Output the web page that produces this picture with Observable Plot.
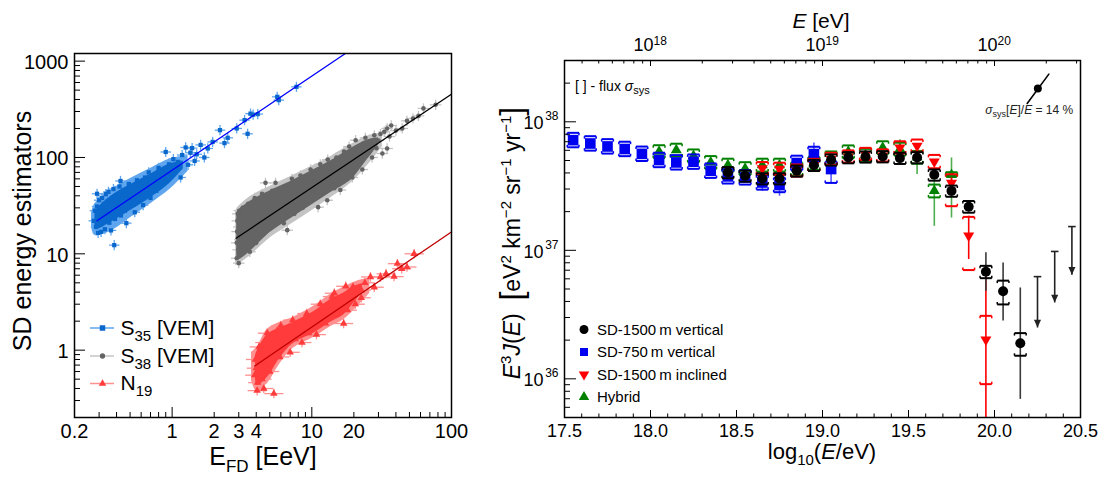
<!DOCTYPE html>
<html>
<head>
<meta charset="utf-8">
<script src="https://cdn.jsdelivr.net/npm/d3@7"></script>
<script src="https://cdn.jsdelivr.net/npm/@observablehq/plot@0.6"></script>
<style>
html,body{margin:0;padding:0;background:#fff;}
#wrap{position:relative;width:1107px;height:480px;overflow:hidden;font-family:"Liberation Sans",Arial,sans-serif;background:#fff;}
#left{position:absolute;left:0;top:0;width:470px;height:480px;}
#right{position:absolute;left:470px;top:0;width:637px;height:480px;}
svg text{font-family:"Liberation Sans",Arial,sans-serif;}
</style>
</head>
<body>
<div id="wrap"><div id="left"></div><div id="right"></div></div>
<script>
// ================= LEFT PANEL DATA (E_FD [EeV], estimator) =================
const s35Points = [
[0.275,22],[0.28,28],[0.285,19],[0.29,42],[0.29,31],[0.295,16.5],[0.30,36],[0.30,24],[0.305,20],[0.31,16.9],[0.31,29],[0.315,38],[0.32,22],[0.325,33],[0.33,18],[0.335,41.6],[0.34,26],[0.345,31],[0.35,44],[0.355,21],[0.36,36],[0.365,17.5],[0.37,28],[0.38,47],[0.385,12.3],[0.39,23],[0.40,39],[0.41,31],[0.42,50],[0.427,57],[0.43,25],[0.44,35],[0.45,46],[0.46,28],[0.47,20.8],[0.48,40],[0.49,53],[0.50,32],[0.52,47],[0.54,27],[0.56,58],[0.58,37],[0.60,50],[0.62,32],[0.64,62],[0.66,44],[0.68,70],[0.70,38],[0.72,56],[0.75,66],[0.77,45],[0.80,78],[0.83,52],[0.86,68],[0.90,114],[0.92,58],[0.95,85],[0.98,66],[1.02,96],[1.06,74],[1.1,90],[1.15,62],[1.18,106],[1.25,127],[1.3,84],[1.35,112],[1.39,125],[1.45,92],[1.5,108],[1.6,135],[1.7,100],[1.8,124],[1.95,145],[2.2,192],[2.37,141],[2.5,160],[2.9,200],[3.3,244],[3.47,176],[3.64,285],[3.8,278],[4.1,282],[5.65,426],[5.8,394],[7.76,541]
];
const s38Points = [
[2.9,9],[2.9,13],[2.92,17],[2.93,22],[2.95,26],[2.97,11],[3.0,8],[3.0,19],[3.02,28],[3.05,14],[3.1,24],[3.15,10],[3.2,30],[3.3,12],[3.4,20],[3.5,33],[3.6,10.5],[3.7,26],[3.8,15],[3.9,38],[4.0,13],[4.2,22],[4.4,42],[4.5,16],[4.66,54.5],[4.8,30],[5.0,19],[5.2,45],[5.5,54.5],[5.6,25],[5.8,38],[6.0,22],[6.3,20.8],[6.67,17.6],[6.5,50],[7.0,32],[7.2,60],[7.5,26],[8.0,45],[8.3,65],[8.6,30],[9.0,55],[9.3,36],[9.8,75],[10,42],[10.5,62],[11.1,30.5],[11.5,85],[12,50],[12.9,36],[13,95],[13.5,62],[14,80],[14.5,48],[15,100],[16,46],[16.5,75],[17,115],[18,60],[18.5,130],[19,85],[19.5,62],[20,110],[20.6,151],[21,95],[22,130],[23,75],[24.2,160],[25,115],[26,140],[27,100],[28,170],[29,125],[30,150],[31,175],[32,110],[33,185],[34.6,124],[34.6,200],[36,165],[37,215],[40,190],[44.4,200],[48,240],[53,254],[58,270],[63,323],[77,352]
];
const n19Points = [
[3.9,0.55],[3.95,0.8],[4.0,0.65],[4.06,0.38],[4.1,0.46],[4.2,1.08],[4.3,0.9],[4.4,0.5],[4.53,0.40],[4.6,1.2],[4.7,0.7],[4.8,1.5],[5.0,0.6],[5.2,1.0],[5.35,0.354],[5.5,1.3],[5.65,1.6],[5.9,0.85],[6.0,1.8],[6.3,1.1],[6.6,1.5],[7.0,0.95],[7.3,2.05],[7.6,1.3],[8.0,1.8],[8.5,1.2],[9.0,2.2],[9.2,2.4],[9.5,1.5],[10.3,2.0],[10.8,1.45],[11.5,3.0],[12.0,2.8],[12.5,1.9],[13.2,2.8],[14,3.6],[14.5,3.9],[15,2.4],[16,3.2],[16.9,1.89],[17.5,4.6],[18,2.6],[19,3.8],[19.7,4.53],[20.5,3.0],[22.6,4.2],[22.6,3.5],[24,5.0],[26.3,5.75],[28,4.5],[31,5.75],[34,6.2],[38.8,5.8],[41,7.9],[44,7.0],[48,7.3],[54,10]
];
// dense-cloud envelopes
const s35HaloE=[0.265,0.28,0.36,0.5,0.7,0.97,1.3], s35HaloLo=[19,15.5,17,23.5,33,47,72], s35HaloHi=[26,33,45,60,77,97,104];
const s35CoreE=[0.28,0.29,0.36,0.5,0.7,0.95,1.2], s35CoreLo=[19,18,21,28,38,53,76], s35CoreHi=[26,29,39,52,67,85,92];
const s38HaloE=[2.85,3.0,3.6,5.0,7.0,9.8,13.6,19,26,32], s38HaloLo=[7.5,7.8,9.5,14.5,20,27.5,38,54,88,130], s38HaloHi=[28,31,39,50,63,80,102,136,170,180];
const s38CoreE=[2.9,3.0,3.6,5.0,7.0,9.8,13.6,19,25,30], s38CoreLo=[9,8.7,10.5,16.5,23,31.5,43,58,95,135], s38CoreHi=[26,28.5,35,45,56,72,92,124,152,160];
const n19HaloE=[3.7,4.06,4.8,5.9,7.4,10.3,13.6,16.8,21,26], n19HaloLo=[0.48,0.37,0.45,0.72,1.05,1.35,1.75,2.05,2.8,3.9], n19HaloHi=[0.95,1.08,1.65,1.95,2.2,2.85,3.8,4.5,5.2,5.6];
const n19CoreE=[3.95,4.06,4.8,5.9,7.4,10.3,13.6,16.8,20,23], n19CoreLo=[0.52,0.43,0.52,0.82,1.18,1.5,1.95,2.3,3.1,4.0], n19CoreHi=[0.88,0.98,1.45,1.7,1.95,2.5,3.35,3.9,4.6,4.9];
// relative error bars [E, estimator]
const s35Err=[0.09,0.13], s38Err=[0.10,0.13], n19Err=[0.17,0.12];
// calibration fit lines (end points)
const fitS35E=[0.29,17.4], fitS35S=[22,1200];
const fitS38E=[2.87,100], fitS38S=[14.5,454];
const fitN19E=[3.9,100], fitN19S=[0.685,16.9];
// left axes
const xTickMajorL=[1,10,100];
const xTickMinorL=[0.3,0.4,0.5,0.6,0.7,0.8,0.9,2,3,4,5,6,7,8,9,20,30,40,50,60,70,80,90];
const xTickLabelsL=[0.2,1,2,3,4,10,20,100];
const yTickMajorL=[1,10,100,1000];
const yTickMinorL=[0.3,0.4,0.5,0.6,0.7,0.8,0.9,2,3,4,5,6,7,8,9,20,30,40,50,60,70,80,90,200,300,400,500,600,700,800,900];
const yTickLabelsL=[1,10,100,1000];

// ================= RIGHT PANEL DATA (log10(E/eV), E^3 J(E)) =================
const blueLgE=[17.55,17.65,17.75,17.85,17.95,18.05,18.15,18.25,18.35,18.45,18.55,18.65,18.75,18.85,18.95,19.05];
const blueFlux=[7.2e37,6.78e37,6.43e37,6.14e37,5.63e37,5.04e37,4.83e37,4.89e37,4.16e37,3.76e37,3.69e37,3.37e37,3.22e37,4.78e37,5.61e37,4.29e37];
const blueStatLo=[null,null,null,null,null,null,null,null,null,null,null,2.9e37,2.66e37,4.4e37,4.9e37,3.33e37];
const blueStatHi=[null,null,null,null,null,null,null,null,null,null,null,3.5e37,3.4e37,5.2e37,6.9e37,5.72e37];
const blueSysUp=[0.14,0.14,0.14,0.14,0.14,0.14,0.14,0.14,0.14,0.14,0.14,0.14,0.14,0.14,0.14,0.14];
const blueSysDn=[0.12,0.12,0.12,0.12,0.12,0.12,0.12,0.12,0.12,0.12,0.12,0.12,0.12,0.12,0.12,0.22];

const blackLgE=[18.45,18.55,18.65,18.75,18.85,18.95,19.05,19.15,19.25,19.35,19.45,19.55,19.65,19.75,19.85,19.95,20.05,20.15];
const blackFlux=[4.04e37,3.80e37,3.62e37,3.62e37,4.16e37,4.60e37,5.07e37,5.28e37,5.35e37,5.37e37,5.22e37,5.28e37,3.87e37,2.90e37,2.18e37,6.82e36,4.80e36,1.89e36];
const blackStatLo=[null,null,null,null,null,null,null,null,null,null,null,null,null,2.7e37,2.0e37,4.85e36,2.84e36,6.98e35];
const blackStatHi=[null,null,null,null,null,null,null,null,null,null,null,null,null,3.1e37,2.35e37,9.64e36,8.05e36,5.14e36];
const blackSysUp=[0.10,0.10,0.10,0.10,0.10,0.10,0.10,0.10,0.10,0.10,0.10,0.10,0.10,0.10,0.11,0.11,0.21,0.20];
const blackSysDn=[0.10,0.10,0.10,0.10,0.10,0.10,0.10,0.10,0.10,0.10,0.10,0.10,0.10,0.10,0.10,0.11,0.21,0.20];

const redLgE=[18.65,18.75,18.85,18.95,19.05,19.15,19.25,19.35,19.45,19.55,19.65,19.75,19.85,19.95];
const redFlux=[4.34e37,4.29e37,4.16e37,4.6e37,5.13e37,5.35e37,5.6e37,5.45e37,6.3e37,6.5e37,4.89e37,3.34e37,1.3e37,2.02e36];
const redStatLo=[null,null,null,null,null,null,null,null,null,null,null,3.0e37,8.55e36,1e35];
const redStatHi=[null,null,null,null,null,null,null,null,null,null,null,3.7e37,1.86e37,6.34e36];
const redSysUp=[0.12,0.12,0.12,0.12,0.12,0.12,0.12,0.12,0.12,0.12,0.13,0.17,0.40,0.53];
const redSysDn=[0.10,0.10,0.10,0.10,0.10,0.10,0.10,0.10,0.10,0.10,0.11,0.34,0.46,0.55];

const greenLgE=[18.05,18.15,18.25,18.35,18.45,18.55,18.65,18.75,18.85,18.95,19.05,19.15,19.25,19.35,19.45,19.55,19.65,19.75];
const greenFlux=[5.87e37,6.03e37,5.44e37,4.83e37,4.61e37,4.33e37,4.61e37,4.61e37,4.3e37,4.75e37,5.25e37,5.85e37,5.5e37,6.3e37,6.14e37,5.3e37,2.9e37,3.86e37];
const greenStatLo=[null,null,null,null,null,null,null,null,null,null,null,null,null,null,5.3e37,3.92e37,1.55e37,1.8e37];
const greenStatHi=[null,null,null,null,null,null,null,null,null,null,null,null,null,6.9e37,7.33e37,6.0e37,3.9e37,5.28e37];
const greenSysUp=[0.12,0.12,0.12,0.12,0.12,0.12,0.12,0.12,0.12,0.12,0.12,0.12,0.12,0.12,0.12,0.12,0.12,0.05];
const greenSysDn=[0.11,0.11,0.11,0.11,0.11,0.11,0.11,0.11,0.11,0.11,0.11,0.11,0.11,0.11,0.11,0.11,0.11,0.02];

const limitLgE=[20.25,20.35,20.45];
const limitFlux=[6.24e36,9.8e36,1.53e37];
const limitTip=[2.51e36,3.93e36,6.46e36];

const annotLgE=[20.19,20.316], annotFlux=[1.39e38,2.35e38];
const annotDotLgE=[20.252], annotDotFlux=[1.82e38];

const xTickMajorR=[17.5,18,18.5,19,19.5,20,20.5];
const xTickMinorR=[17.6,17.7,17.8,17.9,18.1,18.2,18.3,18.4,18.6,18.7,18.8,18.9,19.1,19.2,19.3,19.4,19.6,19.7,19.8,19.9,20.1,20.2,20.3,20.4];
const xTickLabelsR=["17.5","18.0","18.5","19.0","19.5","20.0","20.5"];
const topTickMajorE=[1e18,1e19,1e20];
const topTickMinorE=[4e17,5e17,6e17,7e17,8e17,9e17,2e18,3e18,4e18,5e18,6e18,7e18,8e18,9e18,2e19,3e19,4e19,5e19,6e19,7e19,8e19,9e19,2e20,3e20];
const topTickExp=["18","19","20"];
const yTickMajorR=[1e36,1e37,1e38];
const yTickMinorR=[6e35,7e35,8e35,9e35,2e36,3e36,4e36,5e36,6e36,7e36,8e36,9e36,2e37,3e37,4e37,5e37,6e37,7e37,8e37,9e37,2e38];
const yTickExpR=["36","37","38"];

// ================= helpers =================
const toPts = a => a.map(([E,S]) => ({E,S}));
const toBand = (E,lo,hi) => E.map((e,i)=>({E:e,lo:lo[i],hi:hi[i]}));
const toRows = (lg,F,slo,shi,up,dn) => lg.map((x,i)=>({x,F:F[i],lo:slo[i],hi:shi[i],up:up[i],dn:dn[i]}));
const triUp = {draw(c,size){const a=Math.sqrt(4*size/Math.sqrt(3)),h=a*Math.sqrt(3)/2;c.moveTo(0,-2*h/3);c.lineTo(a/2,h/3);c.lineTo(-a/2,h/3);c.closePath();}};
const triDown = {draw(c,size){const a=Math.sqrt(4*size/Math.sqrt(3)),h=a*Math.sqrt(3)/2;c.moveTo(0,2*h/3);c.lineTo(a/2,-h/3);c.lineTo(-a/2,-h/3);c.closePath();}};
const arrowHead = {draw(c,size){const a=Math.sqrt(size)*1.25,h=a*1.1;c.moveTo(0,0);c.lineTo(a/2,-h);c.lineTo(-a/2,-h);c.closePath();}};
const FONT = "'Liberation Sans', Arial, sans-serif";

// ================= LEFT PLOT =================
const LW=470, LH=480, LM={top:53,right:19,bottom:63,left:74};
const LFH=LH-LM.top-LM.bottom, LFW=LW-LM.left-LM.right;

function cloud(points, halo, core, err, col, symbol, r){
  const P = toPts(points);
  return [
    Plot.areaY(halo,{x:"E",y1:"lo",y2:"hi",fill:col.err,curve:"catmull-rom"}),
    Plot.link(P,{x1:d=>d.E/(1+err[0]),x2:d=>d.E*(1+err[0]),y1:"S",y2:"S",stroke:col.err,strokeWidth:1.3}),
    Plot.link(P,{x1:"E",x2:"E",y1:d=>d.S/(1+err[1]),y2:d=>d.S*(1+err[1]),stroke:col.err,strokeWidth:1.3}),
    Plot.areaY(core,{x:"E",y1:"lo",y2:"hi",fill:col.dot,curve:"catmull-rom"}),
    Plot.dot(P,{x:"E",y:"S",symbol,r,fill:col.dot,stroke:"none"})
  ];
}
const cBlue={dot:"#0a68cc",err:"#5fa6ef"}, cGray={dot:"#646464",err:"#c4c4c4"}, cRed={dot:"#ff3b3b",err:"#ff9090"};

const plotL = Plot.plot({
  width:LW, height:LH, marginTop:LM.top, marginRight:LM.right, marginBottom:LM.bottom, marginLeft:LM.left,
  style:{fontFamily:FONT, background:"white", overflow:"visible", color:"black"},
  x:{type:"log",domain:[0.2,100],axis:null},
  y:{type:"log",domain:[0.2,1200],axis:null},
  marks:[
    ...cloud(s35Points, toBand(s35HaloE,s35HaloLo,s35HaloHi), toBand(s35CoreE,s35CoreLo,s35CoreHi), s35Err, cBlue, "square", 2.4),
    ...cloud(s38Points, toBand(s38HaloE,s38HaloLo,s38HaloHi), toBand(s38CoreE,s38CoreLo,s38CoreHi), s38Err, cGray, "circle", 2.3),
    ...cloud(n19Points, toBand(n19HaloE,n19HaloLo,n19HaloHi), toBand(n19CoreE,n19CoreLo,n19CoreHi), n19Err, cRed, triUp, 2.8),
    Plot.line(fitS35E.map((e,i)=>({E:e,S:fitS35S[i]})),{x:"E",y:"S",stroke:"#0000ff",strokeWidth:1.3,clip:true}),
    Plot.line(fitS38E.map((e,i)=>({E:e,S:fitS38S[i]})),{x:"E",y:"S",stroke:"#000000",strokeWidth:1.3,clip:true}),
    Plot.line(fitN19E.map((e,i)=>({E:e,S:fitN19S[i]})),{x:"E",y:"S",stroke:"#c00000",strokeWidth:1.3,clip:true}),
    Plot.tickX(xTickMinorL,{x:d=>d,insetTop:LFH-5,stroke:"black"}),
    Plot.tickX(xTickMajorL,{x:d=>d,insetTop:LFH-10,stroke:"black"}),
    Plot.tickY(yTickMinorL,{y:d=>d,insetRight:LFW-6,stroke:"black"}),
    Plot.tickY(yTickMajorL,{y:d=>d,insetRight:LFW-11,stroke:"black"}),
    Plot.frame({stroke:"black",strokeWidth:1.5}),
    Plot.text(xTickLabelsL,{x:d=>d,text:d=>String(d),frameAnchor:"bottom",lineAnchor:"top",dy:6,fontSize:20,fill:"black"}),
    Plot.text(yTickLabelsL,{y:d=>d,text:d=>String(d),frameAnchor:"left",textAnchor:"end",dx:-6,dy:1.5,fontSize:20,fill:"black"})
  ]
});
document.getElementById("left").appendChild(plotL);

const sL = d3.select(plotL);
sL.append("text").attr("transform","translate(31,231) rotate(-90)").attr("text-anchor","middle")
  .attr("font-size",25).attr("fill","black").text("SD energy estimators");
{
  const t = sL.append("text").attr("x",263).attr("y",465).attr("text-anchor","middle").attr("font-size",25).attr("fill","black");
  t.append("tspan").text("E");
  t.append("tspan").attr("font-size",17).attr("dy",7).text("FD");
  t.append("tspan").attr("dy",-7).text(" [EeV]");
}
// left legend
[
  {y:328, line:cBlue.err, fill:cBlue.dot, sym:d3.symbolSquare, size:30, main:"S", sub:"35", rest:" [VEM]"},
  {y:356, line:cGray.err, fill:cGray.dot, sym:d3.symbolCircle, size:22, main:"S", sub:"38", rest:" [VEM]"},
  {y:383.5, line:cRed.err, fill:cRed.dot, sym:triUp, size:24, main:"N", sub:"19", rest:""}
].forEach(r=>{
  sL.append("line").attr("x1",90).attr("x2",114).attr("y1",r.y).attr("y2",r.y).attr("stroke",r.line).attr("stroke-width",1.5);
  sL.append("path").attr("transform",`translate(102.5,${r.y})`).attr("d",d3.symbol(r.sym,r.size)()).attr("fill",r.fill);
  const t = sL.append("text").attr("x",120.5).attr("y",r.y+6.5).attr("text-anchor","start").attr("font-size",21).attr("fill","black");
  t.append("tspan").text(r.main);
  t.append("tspan").attr("font-size",15).attr("dy",6).text(r.sub);
  if (r.rest) t.append("tspan").attr("dy",-6).text(r.rest);
});

// ================= RIGHT PLOT =================
const RW=637, RH=480, RM={top:60,right:27,bottom:63,left:94};
const RFH=RH-RM.top-RM.bottom, RFW=RW-RM.left-RM.right;
const capW=0.034;

function fluxSeries(rows, col, errCol, symbol, r){
  const withErr = rows.filter(d=>d.hi!=null && d.lo!=null);
  const capMarks = [];
  for (const k of ["up","dn"]) {
    const yy = d => k==="up" ? d.F*(1+d.up) : d.F*(1-d.dn);
    const leg = d => k==="up" ? yy(d)/1.045 : yy(d)*1.045;
    capMarks.push(Plot.link(rows,{x1:d=>d.x-capW,x2:d=>d.x+capW,y1:yy,y2:yy,stroke:col,strokeWidth:2}));
    capMarks.push(Plot.link(rows,{x1:d=>d.x-capW,x2:d=>d.x-capW,y1:yy,y2:leg,stroke:col,strokeWidth:1.5}));
    capMarks.push(Plot.link(rows,{x1:d=>d.x+capW,x2:d=>d.x+capW,y1:yy,y2:leg,stroke:col,strokeWidth:1.5}));
  }
  return [
    Plot.link(withErr,{x1:"x",x2:"x",y1:"lo",y2:"hi",stroke:errCol,strokeWidth:1.6,clip:true}),
    ...capMarks,
    Plot.dot(rows,{x:"x",y:"F",symbol,r,fill:col,stroke:"none"})
  ];
}
const greenRows = toRows(greenLgE,greenFlux,greenStatLo,greenStatHi,greenSysUp,greenSysDn);
const blueRows = toRows(blueLgE,blueFlux,blueStatLo,blueStatHi,blueSysUp,blueSysDn);
const redRows = toRows(redLgE,redFlux,redStatLo,redStatHi,redSysUp,redSysDn);
const blackRows = toRows(blackLgE,blackFlux,blackStatLo,blackStatHi,blackSysUp,blackSysDn);
const limits = limitLgE.map((x,i)=>({x,top:limitFlux[i],tip:limitTip[i]}));

const plotR = Plot.plot({
  width:RW, height:RH, marginTop:RM.top, marginRight:RM.right, marginBottom:RM.bottom, marginLeft:RM.left,
  style:{fontFamily:FONT, background:"white", overflow:"visible", color:"black"},
  x:{domain:[17.5,20.5],axis:null},
  y:{type:"log",domain:[5e35,3e38],axis:null},
  marks:[
    ...fluxSeries(greenRows,"#008000","#4fae4f",triUp,4.1),
    ...fluxSeries(blueRows,"#0000f0","#5a5aff","square",6.0),
    ...fluxSeries(redRows,"#ff0000","#ff0000",triDown,4.1),
    ...fluxSeries(blackRows,"#000000","#3a3a3a","circle",5.0),
    Plot.link(limits,{x1:"x",x2:"x",y1:"top",y2:"tip",stroke:"#222",strokeWidth:1.6}),
    Plot.link(limits,{x1:d=>d.x-0.022,x2:d=>d.x+0.022,y1:"top",y2:"top",stroke:"#222",strokeWidth:1.6}),
    Plot.dot(limits,{x:"x",y:"tip",symbol:arrowHead,r:3.2,fill:"#222",stroke:"none"}),
    Plot.line(annotLgE.map((x,i)=>({x,y:annotFlux[i]})),{x:"x",y:"y",stroke:"black",strokeWidth:1.6}),
    Plot.dot(annotDotLgE.map((x,i)=>({x,y:annotDotFlux[i]})),{x:"x",y:"y",r:4,fill:"black"}),
    Plot.tickX(xTickMinorR,{x:d=>d,insetTop:RFH-3.5,stroke:"black"}),
    Plot.tickX(xTickMajorR,{x:d=>d,insetTop:RFH-7,stroke:"black"}),
    Plot.tickX(topTickMinorE,{x:d=>Math.log10(d),insetBottom:RFH-3.5,stroke:"black"}),
    Plot.tickX(topTickMajorE,{x:d=>Math.log10(d),insetBottom:RFH-6,stroke:"black"}),
    Plot.tickY(yTickMinorR,{y:d=>d,insetRight:RFW-6,stroke:"black"}),
    Plot.tickY(yTickMajorR,{y:d=>d,insetRight:RFW-12,stroke:"black"}),
    Plot.frame({stroke:"black",strokeWidth:1.5}),
    Plot.text(xTickMajorR,{x:d=>d,text:(d,i)=>xTickLabelsR[i],frameAnchor:"bottom",lineAnchor:"top",dy:7,fontSize:18,fill:"black"}),
    Plot.text(topTickMajorE,{x:d=>Math.log10(d),text:()=>"10",frameAnchor:"top",lineAnchor:"top",textAnchor:"end",dx:3,dy:-21.8,fontSize:18,fill:"black"}),
    Plot.text(topTickMajorE,{x:d=>Math.log10(d),text:(d,i)=>topTickExp[i],frameAnchor:"top",lineAnchor:"top",textAnchor:"start",dx:3,dy:-24.5,fontSize:12,fill:"black"}),
    Plot.text(yTickMajorR,{y:d=>d,text:()=>"10",frameAnchor:"left",textAnchor:"end",dx:-21,dy:1.5,fontSize:18,fill:"black"}),
    Plot.text(yTickMajorR,{y:d=>d,text:(d,i)=>yTickExpR[i],frameAnchor:"left",textAnchor:"end",dx:-6,dy:-5.3,fontSize:12,fill:"black"})
  ]
});
document.getElementById("right").appendChild(plotR);

const sR = d3.select(plotR);
const OX = 470;
function richText(sel, segs){
  let cur = 0;
  segs.forEach(s=>{
    const sh = s.shift||0;
    const ts = sel.append("tspan").attr("dy", sh-cur).text(s.t);
    if (s.size) ts.attr("font-size", s.size);
    if (s.it) ts.attr("font-style","italic");
    cur = sh;
  });
}
// x label
richText(sR.append("text").attr("x",822-OX).attr("y",459).attr("text-anchor","middle").attr("font-size",22).attr("fill","black"),
  [{t:"log"},{t:"10",size:15,shift:6},{t:"(",shift:0},{t:"E",it:true},{t:"/eV)"}]);
// top label
richText(sR.append("text").attr("x",821-OX).attr("y",28).attr("text-anchor","middle").attr("font-size",21).attr("fill","black"),
  [{t:"E",it:true},{t:" [eV]"}]);
// y label
richText(sR.append("text").attr("transform",`translate(${520-OX},243) rotate(-90)`).attr("text-anchor","middle").attr("font-size",23).attr("fill","black"),
  [{t:"E",it:true},{t:"3",size:15,shift:-9},{t:"J",it:true,shift:0},{t:"("},{t:"E",it:true},{t:")  "},
   {t:"[",size:32,shift:2},{t:"eV",shift:0},{t:"2",size:15,shift:-9},{t:" km",shift:0},{t:"−2",size:15,shift:-9},
   {t:" sr",shift:0},{t:"−1",size:15,shift:-9},{t:" yr",shift:0},{t:"−1",size:15,shift:-9},{t:"]",size:32,shift:2}]);
// flux sys note
richText(sR.append("text").attr("x",575-OX).attr("y",91).attr("text-anchor","start").attr("font-size",14).attr("fill","black"),
  [{t:"[ ] - flux "},{t:"σ",it:true},{t:"sys",size:11,shift:3}]);
// energy sys annotation placed next to its marker
{
  const px = plotR.scale("x").apply(annotDotLgE[0]), py = plotR.scale("y").apply(annotDotFlux[0]);
  richText(sR.append("text").attr("x",px-52).attr("y",py+26).attr("text-anchor","start").attr("font-size",12).attr("fill","#222"),
    [{t:"σ",it:true},{t:"sys",size:9,shift:3},{t:"[",shift:0},{t:"E",it:true},{t:"]/"},{t:"E",it:true},{t:" = 14 %"}]);
}
// right legend
[
  {y:329.5, fill:"#000", sym:d3.symbolCircle, size:62, label:"SD-1500\u2009m vertical"},
  {y:352, fill:"#0000f0", sym:d3.symbolSquare, size:64, label:"SD-750\u2009m vertical"},
  {y:374.5, fill:"#ff0000", sym:triDown, size:48, label:"SD-1500\u2009m inclined"},
  {y:397, fill:"#008000", sym:triUp, size:48, label:"Hybrid"}
].forEach(r=>{
  sR.append("path").attr("transform",`translate(${584-OX},${r.y})`).attr("d",d3.symbol(r.sym,r.size)()).attr("fill",r.fill);
  sR.append("text").attr("x",597-OX).attr("y",r.y+5.3).attr("text-anchor","start").attr("font-size",15).attr("fill","black").text(r.label);
});
</script>
</body>
</html>
